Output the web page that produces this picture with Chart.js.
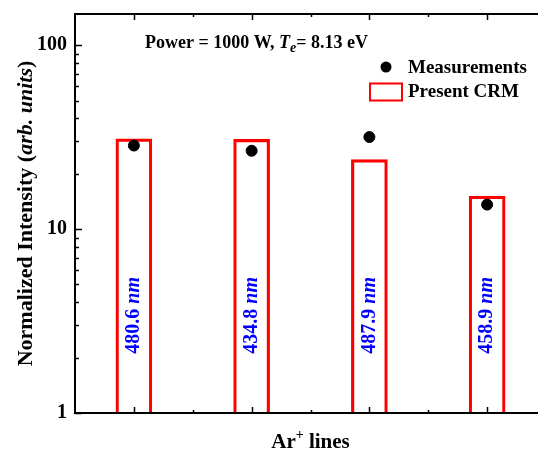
<!DOCTYPE html>
<html>
<head>
<meta charset="utf-8">
<script src="https://cdn.jsdelivr.net/npm/chart.js@4/dist/chart.umd.min.js"></script>
<style>
  html, body { margin: 0; padding: 0; background: #fff; overflow: hidden; }
</style>
</head>
<body>
<canvas id="crmChart" width="560" height="450"></canvas>
<script>
// ==================== DATA ====================
const lineLabels = ["480.6", "434.8", "487.9", "458.9"];
const linePositions = [1, 2, 3, 4];
const crmValues = [31.0, 30.8, 23.9, 15.1];
const measuredValues = [28.5, 26.7, 31.7, 13.6];
const yTickLabels = [1, 10, 100];

const SERIF = '"Liberation Serif", "Times New Roman", serif';
const LABEL_Y = 3.4; // where the rotated line names sit (data units)

// draw a row of text pieces with different fonts
function drawRich(ctx, parts, x, y, align) {
    let total = 0;
    parts.forEach(p => { ctx.font = p.font; p.w = ctx.measureText(p.text).width; total += p.w; });
    let cx = align === "center" ? x - total / 2 : x;
    parts.forEach(p => {
        ctx.font = p.font;
        ctx.fillText(p.text, cx, y + (p.dy || 0));
        cx += p.w;
    });
}

// ==================== DECORATIONS ====================
const decorPlugin = {
    id: "decor",
    afterDatasetsDraw(chart) {
        const { ctx, chartArea: a, scales } = chart;
        const xs = scales.x, ys = scales.y;
        ctx.save();

        // frame
        ctx.strokeStyle = "#000";
        ctx.lineWidth = 2;
        ctx.strokeRect(a.left, a.top, a.right - a.left, a.bottom - a.top);

        // y ticks (inward)
        ctx.lineWidth = 1.5;
        for (let d = 1; d <= 100; d *= 10) {
            for (let k = 1; k <= 9; k++) {
                const v = d * k;
                if (v > ys.max) break;
                const py = Math.round(ys.getPixelForValue(v)) + 0.5;
                const len = k === 1 ? 7 : 4;
                ctx.beginPath();
                ctx.moveTo(a.left, py); ctx.lineTo(a.left + len, py);
                ctx.moveTo(a.right, py); ctx.lineTo(a.right - len, py);
                ctx.stroke();
            }
        }
        // x ticks top and bottom (inward)
        for (let v = 1; v <= 4.5; v += 0.5) {
            const px = Math.round(xs.getPixelForValue(v)) + 0.5;
            const major = Number.isInteger(v);
            const len = major ? 6 : 3;
            ctx.beginPath();
            ctx.moveTo(px, a.bottom); ctx.lineTo(px, a.bottom - len);
            ctx.moveTo(px, a.top); ctx.lineTo(px, a.top + len);
            ctx.stroke();
        }

        // rotated line names inside bars
        ctx.fillStyle = "#0000ff";
        ctx.textBaseline = "middle";
        const ly = ys.getPixelForValue(LABEL_Y);
        lineLabels.forEach((lab, i) => {
            const px = xs.getPixelForValue(linePositions[i]);
            ctx.save();
            ctx.translate(px, ly);
            ctx.rotate(-Math.PI / 2);
            drawRich(ctx, [
                { text: lab + " ", font: `bold 20px ${SERIF}` },
                { text: "nm", font: `italic bold 20px ${SERIF}` }
            ], 0, 0, "center");
            ctx.restore();
        });

        // annotation
        ctx.fillStyle = "#000";
        ctx.textBaseline = "alphabetic";
        drawRich(ctx, [
            { text: "Power = 1000 W, ", font: `bold 18px ${SERIF}` },
            { text: "T", font: `italic bold 18px ${SERIF}` },
            { text: "e", font: `italic bold 14px ${SERIF}`, dy: 4 },
            { text: "= 8.13 eV", font: `bold 18px ${SERIF}` }
        ], 145, 48, "left");

        // legend
        ctx.beginPath();
        ctx.arc(386, 67, 5.5, 0, Math.PI * 2);
        ctx.fill();
        ctx.font = `bold 19px ${SERIF}`;
        ctx.fillText("Measurements", 408, 73);
        ctx.strokeStyle = "#ff0000";
        ctx.lineWidth = 2;
        ctx.strokeRect(370, 83.5, 32, 17);
        ctx.fillText("Present CRM", 408, 97);

        // axis titles
        drawRich(ctx, [
            { text: "Ar", font: `bold 21px ${SERIF}` },
            { text: "+", font: `bold 14px ${SERIF}`, dy: -9 },
            { text: " lines", font: `bold 21px ${SERIF}` }
        ], (a.left + a.right) / 2, 448, "center");

        ctx.save();
        ctx.translate(32, (a.top + a.bottom) / 2);
        ctx.rotate(-Math.PI / 2);
        drawRich(ctx, [
            { text: "Normalized Intensity (", font: `bold 22px ${SERIF}` },
            { text: "arb. units", font: `italic bold 22px ${SERIF}` },
            { text: ")", font: `bold 22px ${SERIF}` }
        ], 0, 0, "center");
        ctx.restore();

        ctx.restore();
    }
};

// ==================== CHART ====================
const ctx = document.getElementById("crmChart").getContext("2d");
new Chart(ctx, {
    data: {
        datasets: [
            {
                type: "scatter",
                label: "Measurements",
                data: linePositions.map((x, i) => ({ x, y: measuredValues[i] })),
                backgroundColor: "#000",
                borderColor: "#000",
                pointRadius: 5.5,
                pointHoverRadius: 5.5,
                order: 0
            },
            {
                type: "bar",
                label: "Present CRM",
                data: linePositions.map((x, i) => ({ x, y: crmValues[i] })),
                backgroundColor: "rgba(255,255,255,0)",
                borderColor: "#ff0000",
                borderWidth: 2.5,
                borderSkipped: "start",
                barThickness: 36,
                order: 1
            }
        ]
    },
    options: {
        responsive: false,
        animation: false,
        layout: { padding: { top: 14, right: 14, left: 0, bottom: 0 } },
        plugins: {
            legend: { display: false },
            tooltip: { enabled: false }
        },
        scales: {
            x: {
                type: "linear",
                min: 0.5,
                max: 4.5,
                offset: false,
                grid: { display: false, offset: false },
                border: { display: false },
                ticks: { display: false },
                afterFit: s => { s.height = 37; s.paddingLeft = 0; s.paddingRight = 0; }
            },
            y: {
                type: "logarithmic",
                min: 1,
                max: 148,
                grid: { display: false, drawTicks: false },
                border: { display: false },
                afterBuildTicks: s => {
                    const t = [];
                    for (let d = 1; d <= 100; d *= 10)
                        for (let k = 1; k <= 9; k++) if (d * k <= s.max) t.push({ value: d * k });
                    s.ticks = t;
                },
                ticks: {
                    autoSkip: false,
                    padding: 8,
                    color: "#000",
                    font: { family: SERIF, size: 20, weight: "bold" },
                    callback: v => yTickLabels.includes(v) ? String(v) : ""
                },
                afterFit: s => { s.width = 75; s.paddingTop = 0; s.paddingBottom = 0; }
            }
        }
    },
    plugins: [decorPlugin]
});
</script>
</body>
</html>
